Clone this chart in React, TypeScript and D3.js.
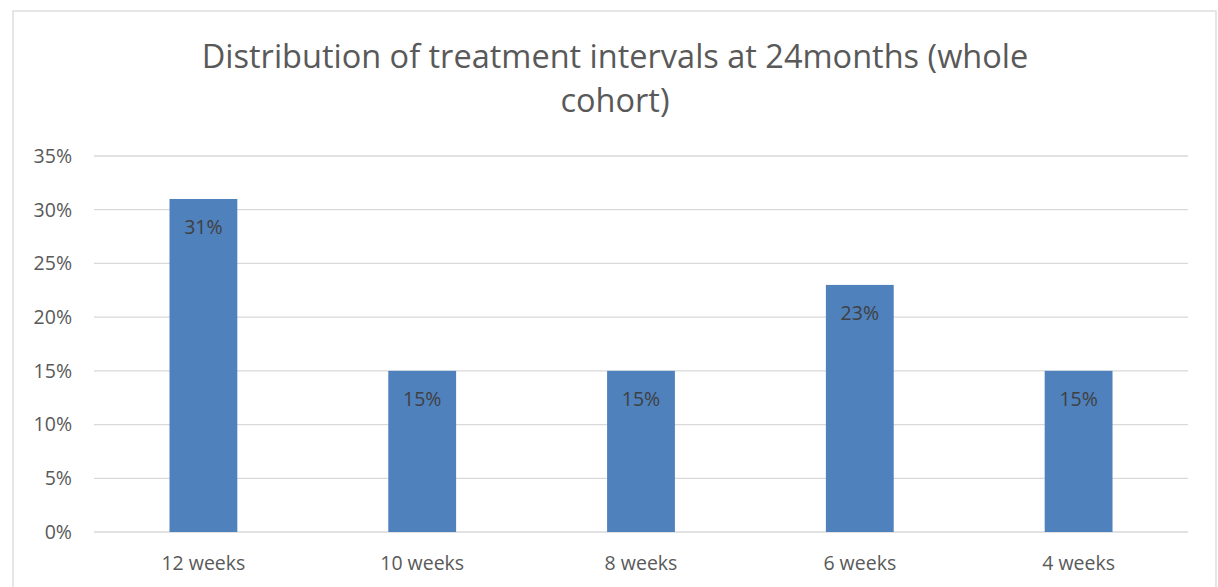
import React from "react";
import * as d3 from "d3";

const categories = ["12 weeks", "10 weeks", "8 weeks", "6 weeks", "4 weeks"];
const values = [0.31, 0.15, 0.15, 0.23, 0.15];
const yTicks = [0, 0.05, 0.1, 0.15, 0.2, 0.25, 0.3, 0.35];
const titleLines = ["Distribution of treatment intervals at 24months (whole", "cohort)"];

const W = 1218;
const H = 587;
const FONT = "'Open Sans', 'Liberation Sans', sans-serif";

export default function App() {
  const x = d3.scaleBand<string>().domain(categories).range([94, 1188]).paddingInner(0.69).paddingOuter(0.345);
  const y = d3.scaleLinear().domain([0, 0.35]).range([532, 156]);
  const fmt = d3.format(".0%");
  return (
    <svg width={W} height={H} style={{ position: "absolute", left: 0, top: 0, background: "#fff" }}>
      <rect x={13} y={11} width={1203} height={600} fill="#fff" stroke="#d9d9d9" strokeWidth={1.3} />
      {titleLines.map((t, i) => (
        <text key={i} x={615} y={68 + i * 44} textAnchor="middle" fontFamily={FONT} fontSize={32.5} fill="#595959">
          {t}
        </text>
      ))}
      {yTicks.map((t) => (
        <g key={t}>
          <line x1={94} x2={1188} y1={y(t)} y2={y(t)} stroke="#d9d9d9" strokeWidth={1.3} />
          <text x={72} y={y(t)} dy="0.35em" textAnchor="end" fontFamily={FONT} fontSize={19.5} fill="#595959">
            {fmt(t)}
          </text>
        </g>
      ))}
      {categories.map((c, i) => (
        <g key={c}>
          <rect x={x(c)} y={y(values[i])} width={x.bandwidth()} height={y(0) - y(values[i])} fill="#4f81bd" />
          <text x={x(c)! + x.bandwidth() / 2} y={y(values[i]) + 28} dy="0.35em" textAnchor="middle" fontFamily={FONT} fontSize={19.5} fill="#404040">
            {fmt(values[i])}
          </text>
          <text x={x(c)! + x.bandwidth() / 2} y={563} dy="0.35em" textAnchor="middle" fontFamily={FONT} fontSize={19.5} fill="#595959">
            {c}
          </text>
        </g>
      ))}
    </svg>
  );
}
